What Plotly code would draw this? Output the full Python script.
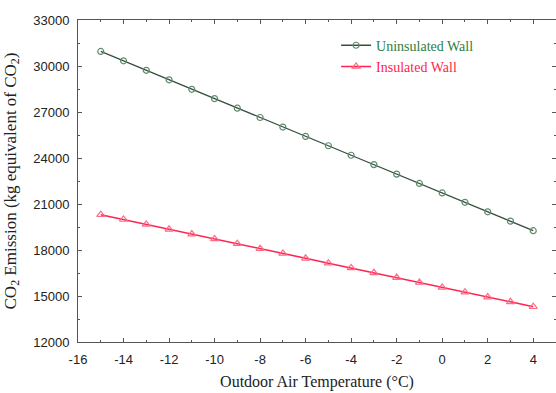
import plotly.graph_objects as go

temps = [-15, -14, -13, -12, -11, -10, -9, -8, -7, -6, -5, -4, -3, -2, -1, 0, 1, 2, 3, 4]
uninsulated = [30950, 30340, 29720, 29100, 28480, 27870, 27250, 26640, 26020, 25410,
               24800, 24180, 23570, 22950, 22340, 21720, 21110, 20490, 19880, 19260]
insulated = [20300, 19990, 19670, 19350, 19040, 18720, 18410, 18090, 17780, 17460,
             17140, 16830, 16510, 16200, 15880, 15560, 15250, 14930, 14620, 14300]

x_tickvals = [-16, -14, -12, -10, -8, -6, -4, -2, 0, 2, 4]
x_ticktext = ["-16", "-14", "-12", "-10", "-8", "-6", "-4", "-2", "0", "2", "4"]
y_tickvals = [12000, 15000, 18000, 21000, 24000, 27000, 30000, 33000]
y_ticktext = ["12000", "15000", "18000", "21000", "24000", "27000", "30000", "33000"]

fig = go.Figure()
fig.add_trace(go.Scatter(
    x=temps, y=uninsulated, mode="lines+markers",
    name='<span style="color:#2e7d3e">Uninsulated Wall</span>',
    line=dict(color="#35503f", width=1.3),
    marker=dict(symbol="circle-open", size=6, color="#5f8a6c", line=dict(width=1.2)),
))
fig.add_trace(go.Scatter(
    x=temps, y=insulated, mode="lines+markers",
    name='<span style="color:#ff1f4b">Insulated Wall</span>',
    line=dict(color="#ff2352", width=1.6),
    marker=dict(symbol="triangle-up-open", size=7, color="#ff6a85", line=dict(width=1.2)),
))

axis_common = dict(
    showline=True, linecolor="#555555", linewidth=1, mirror="ticks",
    ticks="inside", ticklen=4, tickcolor="#555555",
    showgrid=False, zeroline=False, ticklabelstandoff=5,
    tickfont=dict(family="Liberation Sans, Arial", size=13, color="#222222"),
)
fig.update_xaxes(
    range=[-16, 5.0], tickmode="array", tickvals=x_tickvals, ticktext=x_ticktext,
    minor=dict(ticks="inside", ticklen=2, dtick=1, tick0=-16, tickcolor="#555555"),
    title=dict(text="Outdoor Air Temperature (°C)",
               font=dict(family="Liberation Serif, Times New Roman", size=16, color="#222222"),
               standoff=10),
    **axis_common,
)
fig.update_yaxes(
    range=[12000, 33000], tickmode="array", tickvals=y_tickvals, ticktext=y_ticktext,
    minor=dict(ticks="inside", ticklen=2, dtick=1500, tick0=12000, tickcolor="#555555"),
    title=dict(text="CO<sub>2</sub> Emission (kg equivalent of CO<sub>2</sub>)",
               font=dict(family="Liberation Serif, Times New Roman", size=17, color="#222222"),
               standoff=12),
    **axis_common,
)
fig.update_layout(
    width=556, height=393,
    margin=dict(l=78, r=0, t=20, b=51),
    paper_bgcolor="white", plot_bgcolor="white",
    showlegend=True,
    legend=dict(x=0.54, y=0.97, xanchor="left", yanchor="top",
                bgcolor="rgba(0,0,0,0)", borderwidth=0,
                font=dict(family="Liberation Serif, Times New Roman", size=14),
                itemwidth=30, tracegroupgap=0),
)
fig.write_html("out.html")
